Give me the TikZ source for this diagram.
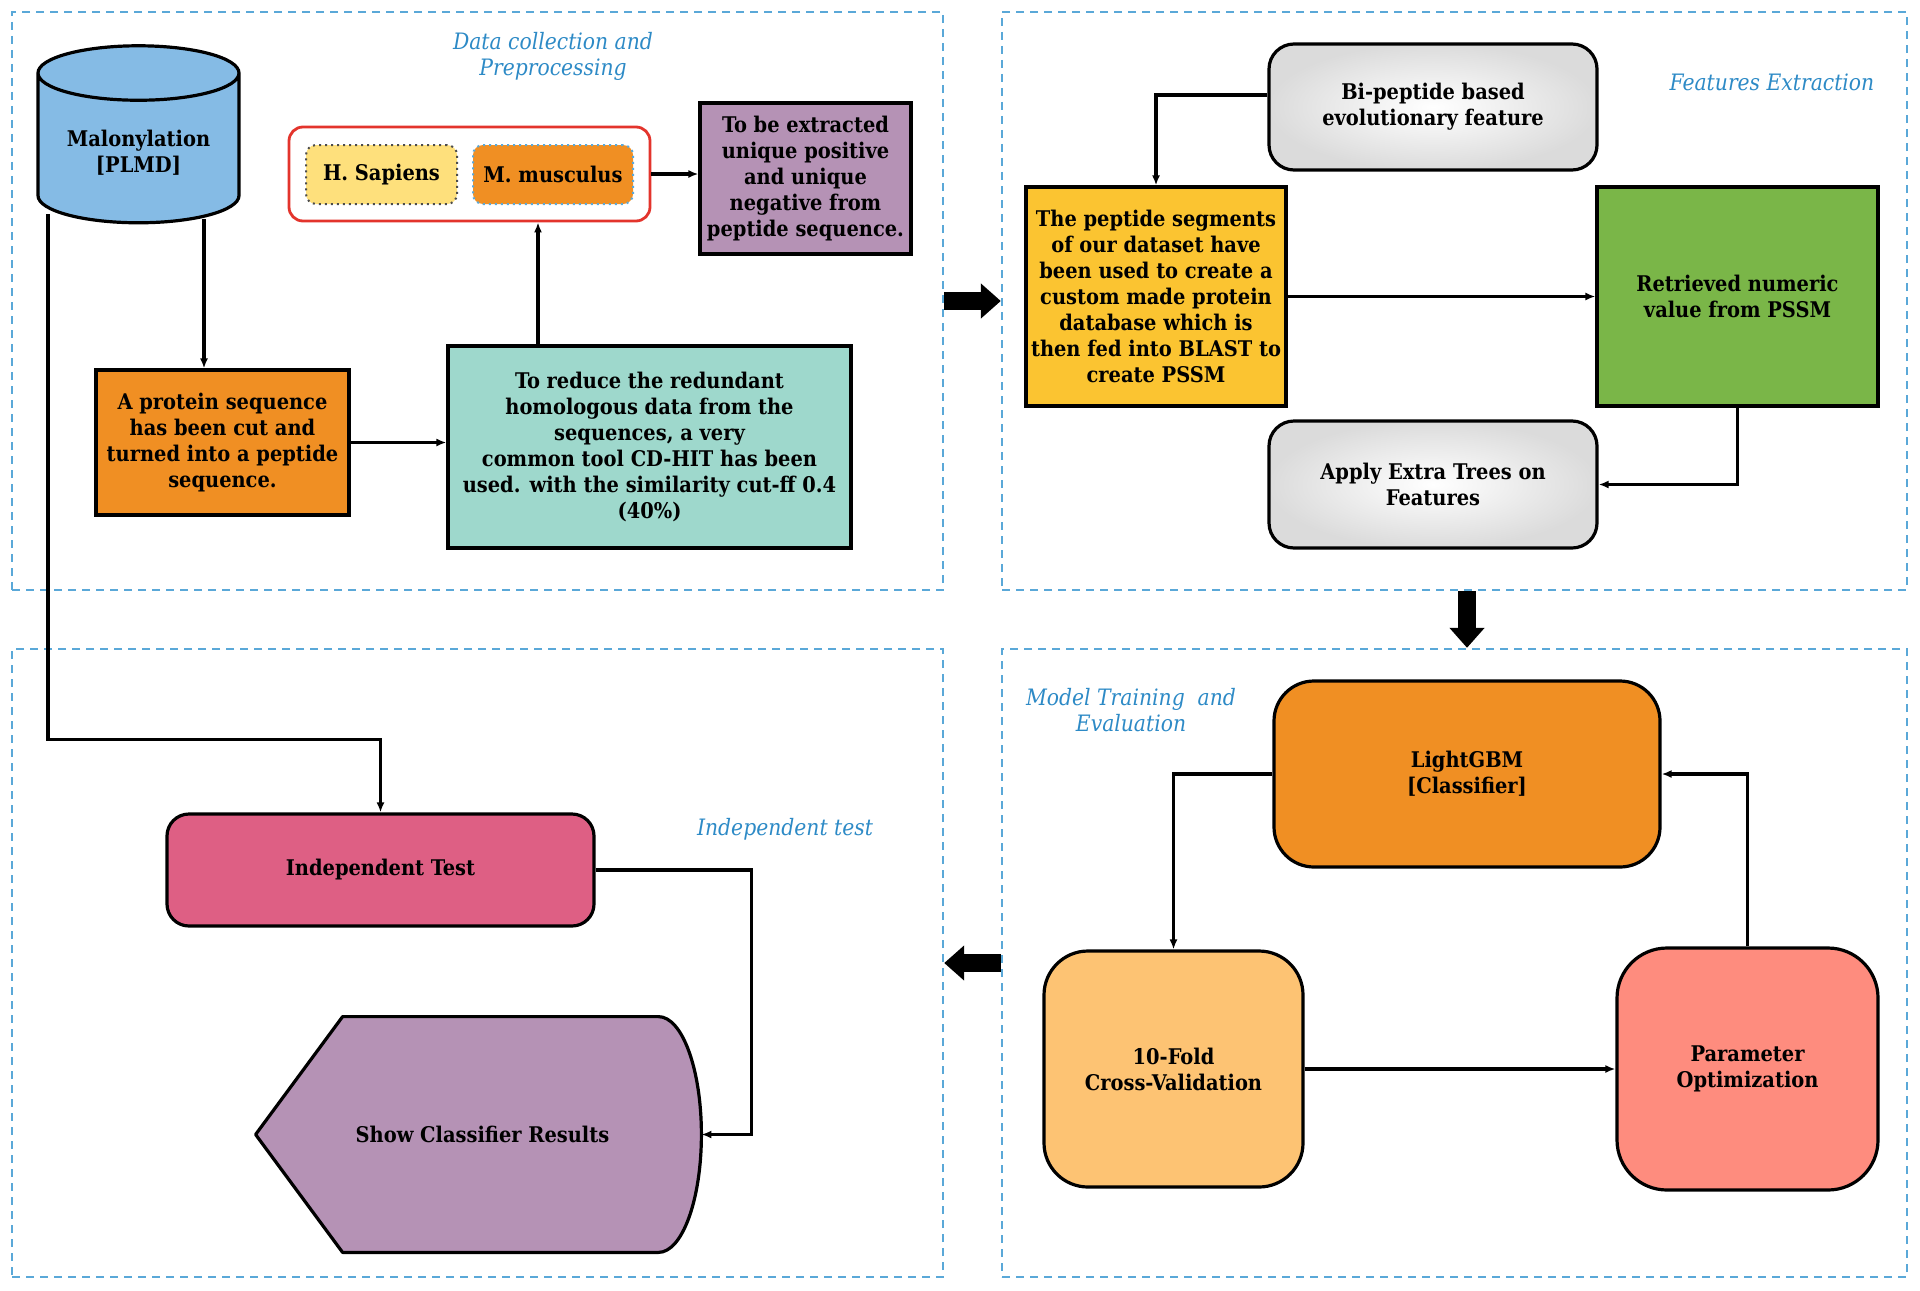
\documentclass[tikz,border=0pt]{standalone}
\usepackage{fontspec}
\setmainfont{DejaVu Serif Condensed}
\usetikzlibrary{shapes.geometric,arrows.meta}

\definecolor{panelblue}{HTML}{5AA8D8}
\definecolor{lblblue}{HTML}{2D8AC6}
\definecolor{dbblue}{HTML}{85BBE5}
\definecolor{cutorange}{HTML}{F08F23}
\definecolor{cdteal}{HTML}{9ED8CC}
\definecolor{hsyellow}{HTML}{FEE07C}
\definecolor{exviolet}{HTML}{B592B5}
\definecolor{segyellow}{HTML}{FBC431}
\definecolor{pssmgreen}{HTML}{7AB648}
\definecolor{cvorange}{HTML}{FDC373}
\definecolor{parsalmon}{HTML}{FE8C7E}
\definecolor{indpink}{HTML}{DE5F84}
\definecolor{grpred}{HTML}{E3342C}

\tikzset{
  panel/.style={draw=panelblue, line width=1.2pt, dash pattern=on 4pt off 3pt},
  lbl/.style={text=lblblue, font=\fontsize{11.3}{13}\selectfont\itshape, align=center},
  box/.style={draw, line width=1.6pt, align=center, inner sep=2pt,
    font=\fontsize{10.8}{13}\selectfont\bfseries},
  rbox/.style={box, rounded corners=#1},
  greybox/.style={rbox=12.5pt, inner color=white, outer color=black!14},
  arr/.style={-{Latex[length=5pt,width=4pt]}, line width=1.6pt},
  blockarr/.style={-{Triangle[length=10pt,width=17pt]}, line width=9pt},
}

\begin{document}
\begin{tikzpicture}[x=0.5pt, y=-0.5pt]
  \useasboundingbox (0,0) rectangle (1920,1290);

  % panels
  \node[panel, minimum width=465.5pt, minimum height=289pt] (pnlA) at (477.5,301) {};
  \node[panel, minimum width=452.5pt, minimum height=289pt] (pnlB) at (1454.5,301) {};
  \node[panel, minimum width=465.5pt, minimum height=314pt] (pnlC) at (477.5,963) {};
  \node[panel, minimum width=452.5pt, minimum height=314pt] (pnlD) at (1454.5,963) {};

  \node[lbl] (lblA) at (553,56) {Data collection and\\Preprocessing};
  \node[lbl] (lblB) at (1772,82) {Features Extraction};
  \node[lbl] (lblC) at (1131,710) {Model Training~ and\\Evaluation};
  \node[lbl] (lblD) at (785,829) {Independent test};

  % data collection
  \node[box, cylinder, shape border rotate=90, aspect=0.36, fill=dbblue,
    minimum width=100.5pt, minimum height=88.5pt] (db) at (138.5,152.5) {Malonylation\\{}[PLMD]};
  \node[box, fill=cutorange, minimum width=126.5pt, minimum height=72.5pt] (cut) at (222.5,442.5)
    {A protein sequence\\has been cut and\\turned into a peptide\\sequence.};
  \node[box, fill=cdteal, minimum width=201.5pt, minimum height=101pt] (cdhit) at (649.5,447)
    {To reduce the redundant\\homologous data from the\\sequences, a very\\common tool CD-HIT has been\\used. with the similarity cut-ff 0.4\\(40\%)};
  \node[rbox=7pt, draw=grpred, line width=1.4pt, fill=white, minimum width=180.5pt, minimum height=47pt] (species) at (469.5,174) {};
  \node[rbox=5pt, draw=black!70, line width=1pt, dotted, fill=hsyellow, minimum width=75.5pt, minimum height=29.5pt] (hsap) at (381.5,174.5) {H. Sapiens};
  \node[rbox=5pt, draw=panelblue, line width=1pt, dotted, fill=cutorange, minimum width=80pt, minimum height=29.5pt] (mmus) at (553,174.5) {M. musculus};
  \node[box, fill=exviolet, minimum width=105.5pt, minimum height=75.5pt] (extract) at (805.5,178.5)
    {To be extracted\\unique positive\\and unique\\negative from\\peptide sequence.};

  \draw[arr] ([xshift=32.75pt,yshift=2.5pt]db.south) -- ([xshift=32.75pt]db.south |- cut.north);
  \draw[arr] (cut.east) -- (cut.east -| cdhit.west);
  \draw[arr] ([xshift=-55.75pt]cdhit.north) -- ([xshift=-55.75pt]cdhit.north |- species.south);
  \draw[arr] (species.east) -- (species.east -| extract.west);

  % features extraction
  \node[greybox, minimum width=164pt, minimum height=63pt] (bipep) at (1433,107)
    {Bi-peptide based\\evolutionary feature};
  \node[box, fill=segyellow, minimum width=130pt, minimum height=109.5pt] (segs) at (1156,296.5)
    {The peptide segments\\of our dataset have\\been used to create a\\custom made protein\\database which is\\then fed into BLAST to\\create PSSM};
  \node[box, fill=pssmgreen, minimum width=140.5pt, minimum height=109.5pt] (pssm) at (1737.5,296.5)
    {Retrieved numeric\\value from PSSM};
  \node[greybox, minimum width=164pt, minimum height=63.5pt] (extra) at (1433,484.5)
    {Apply Extra Trees on\\Features};

  \draw[arr] ([yshift=6pt]bipep.west) -| (segs.north);
  \draw[arr] (segs.east) -- (pssm.west);
  \draw[arr] (pssm.south) |- (extra.east);

  % model training
  \node[rbox=20pt, fill=cutorange, minimum width=193pt, minimum height=93pt] (lgbm) at (1467,774)
    {LightGBM\\{}[Classifier]};
  \node[rbox=22pt, fill=cvorange, minimum width=129.5pt, minimum height=118pt] (cv) at (1173.5,1069)
    {10-Fold\\Cross-Validation};
  \node[rbox=25pt, fill=parsalmon, minimum width=130.5pt, minimum height=121pt] (param) at (1747.5,1069)
    {Parameter\\Optimization};

  \draw[arr] (lgbm.west) -| (cv.north);
  \draw[arr] (cv.east) -- (param.west);
  \draw[arr] (param.north) |- (lgbm.east);

  % independent test
  \node[rbox=11pt, fill=indpink, minimum width=213.5pt, minimum height=56pt] (indep) at (380.5,870)
    {Independent Test};
  \node[minimum width=222.5pt, minimum height=117.5pt, inner sep=0pt] (show) at (478.5,1134.5) {};
  \filldraw[fill=exviolet, line width=1.6pt, line join=round]
    (show.west) -- ([xshift=43.5pt]show.north west) -- ([xshift=-21.5pt]show.north east)
    .. controls ([xshift=-9.6pt]show.north east) and ([yshift=32.6pt]show.east) .. (show.east)
    .. controls ([yshift=-32.6pt]show.east) and ([xshift=-9.6pt]show.south east) .. ([xshift=-21.5pt]show.south east)
    -- ([xshift=43.5pt]show.south west) -- cycle;
  \node[font=\fontsize{10.8}{13}\selectfont\bfseries] (showtxt) at ([xshift=2pt]show.center) {Show Classifier Results};

  \draw[arr] ([xshift=-45.25pt,yshift=5pt]db.south) -- ++(0,525) -| (indep.north);
  \draw[arr] (indep.east) -- ++(156,0) |- (show.east);

  % between panels
  \draw[blockarr] (pnlA.east) -- (pnlB.west);
  \draw[blockarr] (pnlB.south -| lgbm.north) -- (pnlD.north -| lgbm.north);
  \draw[blockarr] (pnlD.west) -- (pnlC.east);
\end{tikzpicture}
\end{document}
